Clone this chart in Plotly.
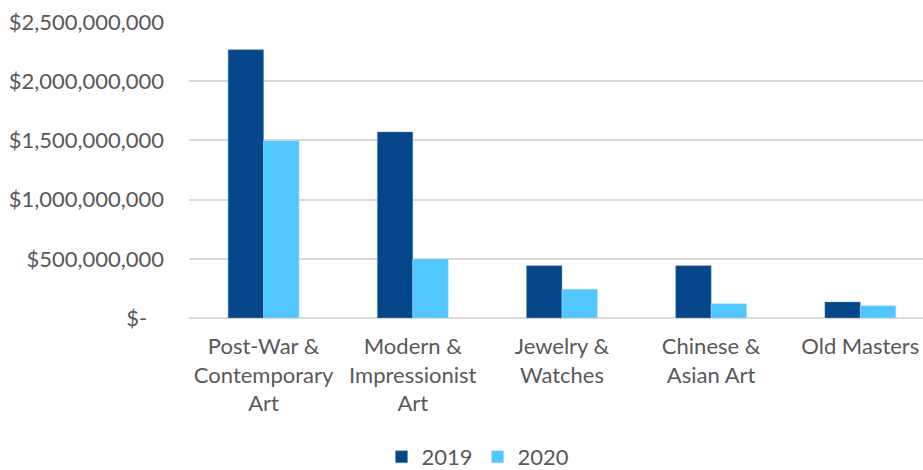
import plotly.graph_objects as go

categories = ["Post-War &<br>Contemporary<br>Art", "Modern &<br>Impressionist<br>Art",
              "Jewelry &<br>Watches", "Chinese &<br>Asian Art", "Old Masters"]
sales_2019 = [2266000000, 1571000000, 442000000, 442000000, 135000000]
sales_2020 = [1497000000, 498000000, 242000000, 121000000, 104000000]
tick_vals = [0, 500000000, 1000000000, 1500000000, 2000000000, 2500000000]
tick_text = ["$-   ", "$500,000,000", "$1,000,000,000", "$1,500,000,000",
             "$2,000,000,000", "$2,500,000,000"]

font_family = "Lato, 'Open Sans', sans-serif"
fs = 22
fig = go.Figure()
fig.add_trace(go.Bar(x=categories, y=sales_2019, name="2019",
                     marker=dict(color="#03478A", line=dict(color="#6f8fb5", width=0.5))))
fig.add_trace(go.Bar(x=categories, y=sales_2020, name="2020",
                     marker=dict(color="#51C6FF", line=dict(color="#a8e2ff", width=0.5))))

fig.update_layout(
    width=923, height=470,
    margin=dict(l=189, r=0, t=22, b=152, autoexpand=False),
    paper_bgcolor="white", plot_bgcolor="white",
    barmode="group", bargap=0.525, bargroupgap=0,
    font=dict(family=font_family, size=fs, color="#595959"),
    legend=dict(orientation="h", x=478 / 923, xref="container", xanchor="center",
                y=13 / 470, yref="container", yanchor="middle",
                font=dict(size=fs, color="#595959"), traceorder="normal",
                itemwidth=30, tracegroupgap=0),
    showlegend=True,
)
fig.update_xaxes(range=[-0.5, 4.42], showgrid=False, showline=False, ticks="",
                 tickfont=dict(size=fs, color="#595959"), tickangle=0,
                 ticklabelstandoff=13, automargin=False)
fig.update_yaxes(range=[0, 2500000000], tickvals=tick_vals, ticktext=tick_text,
                 showgrid=True, gridcolor="#d9d9d9", gridwidth=1.5,
                 zeroline=True, zerolinecolor="#d9d9d9", zerolinewidth=1.5,
                 showline=False, ticks="", ticklabelstandoff=24, automargin=False,
                 tickfont=dict(size=fs, color="#595959"))

fig.write_html("out.html")
